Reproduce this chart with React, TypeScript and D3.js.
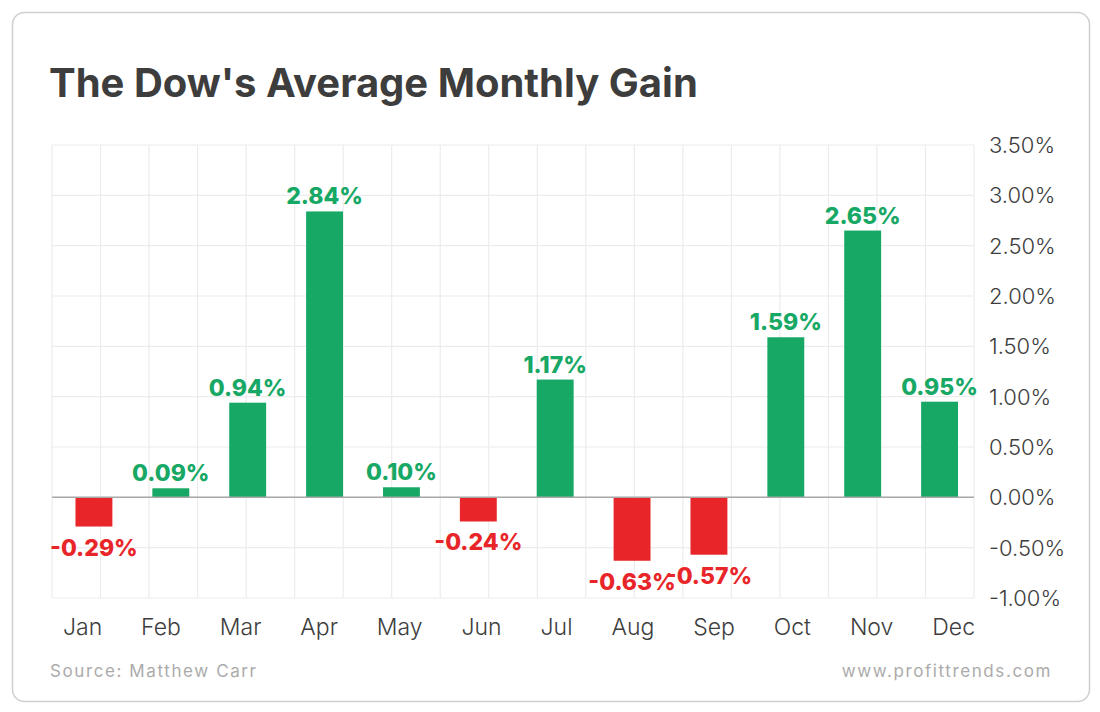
import * as d3 from "d3";
import React, {useEffect, useRef} from "react";

const months = ['Jan', 'Feb', 'Mar', 'Apr', 'May', 'Jun', 'Jul', 'Aug', 'Sep', 'Oct', 'Nov', 'Dec'];
const gains = [-0.29, 0.09, 0.94, 2.84, 0.10, -0.24, 1.17, -0.63, -0.57, 1.59, 2.65, 0.95];
const yTicks = [-1, -0.5, 0, 0.5, 1, 1.5, 2, 2.5, 3, 3.5];
const title = "The Dow's Average Monthly Gain";
const source = 'Source: Matthew Carr';
const site = 'www.profittrends.com';

const GREEN = '#17a865';
const RED = '#e8262a';
const FONT = 'Inter, Roboto, sans-serif';

const App: React.FC = () => {
  const ref = useRef<SVGSVGElement | null>(null);

  useEffect(() => {
    const width = 1100;
    const height = 712;
    const svg = d3.select(ref.current);
    svg.selectAll('*').remove();
    svg.attr('width', width).attr('height', height);

    const plot = { left: 52, right: 974, top: 145, bottom: 598 };

    // card
    svg.append('rect')
      .attr('x', 12.5).attr('y', 12.5)
      .attr('width', 1077).attr('height', 689)
      .attr('rx', 12)
      .attr('fill', '#fff')
      .attr('stroke', '#cfcfcf')
      .attr('stroke-width', 1.5);

    svg.append('text')
      .attr('x', 49).attr('y', 97)
      .style('font-family', FONT)
      .style('font-weight', 700)
      .style('font-size', '40px')
      .attr('fill', '#3d3d3d')
      .text(title);

    const yScale = d3.scaleLinear()
      .domain([-1, 3.5])
      .range([plot.bottom, plot.top]);

    const xScale = d3.scaleBand()
      .domain(months)
      .range([55.5, 978])
      .paddingInner(0.52)
      .paddingOuter(0.26);

    // grid
    const grid = svg.append('g');
    const cols = 19;
    d3.range(cols + 1).forEach((i) => {
      const x = plot.left + (i * (plot.right - plot.left)) / cols;
      grid.append('line')
        .attr('x1', x).attr('x2', x)
        .attr('y1', plot.top).attr('y2', plot.bottom)
        .attr('stroke', '#ececec').attr('stroke-width', 1.2);
    });
    yTicks.forEach((t) => {
      grid.append('line')
        .attr('x1', plot.left).attr('x2', plot.right)
        .attr('y1', yScale(t)).attr('y2', yScale(t))
        .attr('stroke', '#ececec').attr('stroke-width', 1.2);
    });

    // y labels on the right
    svg.append('g')
      .selectAll('text')
      .data(yTicks)
      .enter()
      .append('text')
      .attr('x', 989)
      .attr('y', (d) => yScale(d))
      .attr('dominant-baseline', 'central')
      .style('font-family', FONT)
      .style('font-size', '22px')
      .style('font-weight', 300)
      .attr('fill', '#3d3d3d')
      .text((d) => `${d.toFixed(2)}%`);

    // bars
    const barGroups = svg.selectAll('.bar-group')
      .data(gains)
      .enter()
      .append('g')
      .attr('class', 'bar-group')
      .attr('transform', (_, i) => `translate(${xScale(months[i])}, 0)`);

    barGroups.append('rect')
      .attr('y', (d) => yScale(Math.max(0, d)))
      .attr('width', xScale.bandwidth())
      .attr('height', (d) => Math.abs(yScale(d) - yScale(0)))
      .attr('fill', (d) => (d >= 0 ? GREEN : RED));

    barGroups.append('text')
      .attr('x', xScale.bandwidth() / 2)
      .attr('y', (d) => (d >= 0 ? yScale(d) - 7 : yScale(d) + 29))
      .attr('text-anchor', 'middle')
      .attr('fill', (d) => (d >= 0 ? GREEN : RED))
      .style('font-family', FONT)
      .style('font-weight', 800)
      .style('font-size', '23px')
      .text((d) => `${d.toFixed(2)}%`);

    // zero line
    svg.append('line')
      .attr('x1', plot.left).attr('x2', plot.right)
      .attr('y1', yScale(0)).attr('y2', yScale(0))
      .attr('stroke', '#a8a8a8').attr('stroke-width', 1.5);

    // month labels, spread edge to edge
    const labels = svg.append('g')
      .selectAll('text')
      .data(months)
      .enter()
      .append('text')
      .attr('y', 635)
      .style('font-family', FONT)
      .style('font-size', '23px')
      .style('font-weight', 300)
      .attr('fill', '#3d3d3d')
      .text((d) => d);
    const widths = labels.nodes().map((n) => (n as SVGTextElement).getComputedTextLength());
    const left = 63;
    const right = 975;
    const gap = (right - left - d3.sum(widths)) / (months.length - 1);
    let cursor = left;
    labels.attr('x', (_, i) => {
      const x = cursor;
      cursor += widths[i] + gap;
      return x;
    });

    // footer
    svg.append('text')
      .attr('x', 50).attr('y', 677)
      .style('font-family', FONT)
      .style('font-size', '17px')
      .style('letter-spacing', '1.6px')
      .attr('fill', '#ababab')
      .text(source);

    svg.append('text')
      .attr('x', 1052).attr('y', 677)
      .attr('text-anchor', 'end')
      .style('font-family', FONT)
      .style('font-size', '17px')
      .style('letter-spacing', '1.6px')
      .attr('fill', '#ababab')
      .text(site);

    return () => {
      svg.selectAll('*').remove();
    };
  }, []);

  return <svg ref={ref} style={{position: 'absolute', left: 0, top: 0}}/>;
};

export default App;
